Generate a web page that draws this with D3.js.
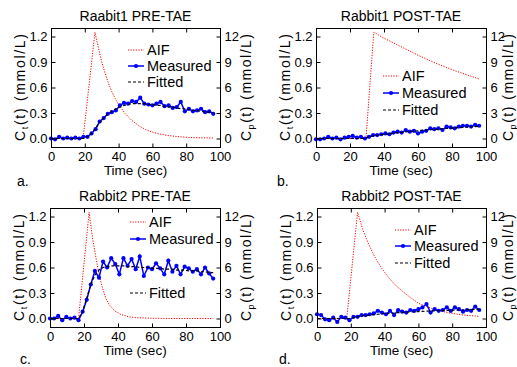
<!DOCTYPE html>
<meta charset="utf-8">
<style>
body { margin:0; background:#fff; }
text { font-family: "Liberation Sans", Arial, sans-serif; fill:#000; }
</style>
<script src="https://d3js.org/d3.v7.min.js"></script>
<body>
<svg id="fig" width="517" height="367"></svg>
<script>

// sample times (sec) of the measured / fitted curves
var time = [0, 2.4, 4.8, 7.2, 9.6, 12, 14.4, 16.8, 19.2, 21.6, 24, 26.4, 28.8, 31.2, 33.6, 36, 38.4, 40.8, 43.2, 45.6,
  48, 50.4, 52.8, 55.2, 57.6, 60, 62.4, 64.8, 67.2, 69.6, 72, 74.4, 76.8, 79.2, 81.6, 84, 86.4, 88.8, 91.2, 93.6, 96]

// Rabbit1 PRE-TAE
var measA = [0.00, -0.01, 0.02, 0.00, 0.01, 0.00, 0.01, 0.00, 0.02, 0.02, 0.06, 0.11, 0.20, 0.24, 0.29, 0.31, 0.33, 0.39, 0.42, 0.41,
  0.44, 0.43, 0.48, 0.41, 0.40, 0.39, 0.41, 0.43, 0.38, 0.39, 0.36, 0.37, 0.43, 0.32, 0.35, 0.32, 0.33, 0.35, 0.31, 0.32, 0.29]
var fitA = [0, 0, 0, 0, 0, 0, 0, 0, 0, 0.02, 0.06, 0.12, 0.19, 0.24, 0.29, 0.32, 0.35, 0.37, 0.39, 0.40,
  0.41, 0.41, 0.41, 0.41, 0.40, 0.40, 0.39, 0.39, 0.38, 0.37, 0.37, 0.36, 0.35, 0.35, 0.34, 0.33, 0.33, 0.32, 0.31, 0.31, 0.30]
var aifTimeA = [0, 19, 26, 28, 30, 32, 34, 36, 38, 40, 44, 48, 52, 56, 60, 65, 70, 75, 80, 85, 90, 96]
var aifA = [0, 0, 12.5, 10.7, 9.0, 7.7, 6.5, 5.5, 4.7, 4.0, 2.9, 2.1, 1.5, 1.05, 0.75, 0.5, 0.33, 0.22, 0.15, 0.1, 0.08, 0.06]

// Rabbit1 POST-TAE
var measB = [-0.01, -0.01, 0.00, 0.02, 0.00, 0.01, -0.01, 0.01, 0.02, 0.03, 0.01, 0.02, 0.00, 0.02, 0.04, 0.04, 0.05, 0.06, 0.05, 0.07,
  0.08, 0.07, 0.10, 0.08, 0.09, 0.06, 0.08, 0.09, 0.12, 0.11, 0.12, 0.10, 0.14, 0.13, 0.12, 0.14, 0.15, 0.15, 0.14, 0.16, 0.15]
var fitB = [0, 0, 0, 0, 0, 0, 0, 0, 0, 0, 0, 0, 0, 0.02, 0.03, 0.04, 0.045, 0.05, 0.056, 0.062,
  0.068, 0.073, 0.078, 0.083, 0.087, 0.091, 0.095, 0.099, 0.103, 0.107, 0.111, 0.114, 0.118, 0.121, 0.124, 0.128, 0.131, 0.134, 0.137, 0.14, 0.143]
var aifTimeB = [0, 29.4, 34, 40, 50, 60, 70, 80, 90, 96]
var aifB = [0, 0, 12.5, 11.8, 10.8, 9.8, 8.9, 8.1, 7.4, 7.0]

// Rabbit2 PRE-TAE
var measC = [0.00, 0.00, 0.03, -0.02, 0.02, 0.00, 0.01, -0.02, 0.08, 0.22, 0.40, 0.56, 0.48, 0.67, 0.60, 0.71, 0.64, 0.52, 0.71, 0.62,
  0.70, 0.58, 0.73, 0.50, 0.60, 0.58, 0.65, 0.59, 0.52, 0.68, 0.55, 0.62, 0.52, 0.61, 0.59, 0.55, 0.58, 0.52, 0.60, 0.53, 0.47]
var fitC = [0, 0, 0, 0, 0, 0, 0, 0, 0.08, 0.24, 0.40, 0.51, 0.57, 0.60, 0.61, 0.62, 0.62, 0.62, 0.62, 0.61,
  0.61, 0.61, 0.60, 0.60, 0.60, 0.59, 0.59, 0.59, 0.58, 0.58, 0.58, 0.57, 0.57, 0.57, 0.56, 0.56, 0.56, 0.55, 0.55, 0.54, 0.54]
var aifTimeC = [0, 16.8, 23, 25, 27, 29, 31, 33, 35, 38, 42, 46, 50, 60, 70, 80, 96]
var aifC = [0, 0, 12.5, 9.5, 7.2, 5.0, 3.5, 2.3, 1.6, 0.9, 0.45, 0.22, 0.1, 0.03, 0, 0, 0]

// Rabbit2 POST-TAE
var measD = [0.05, 0.04, -0.01, -0.02, 0.01, -0.04, 0.02, 0.01, -0.02, 0.02, 0.02, 0.04, 0.04, 0.05, 0.06, 0.09, 0.07, 0.05, 0.09, 0.04,
  0.10, 0.08, 0.07, 0.10, 0.09, 0.11, 0.13, 0.17, 0.07, 0.11, 0.09, 0.10, 0.13, 0.09, 0.13, 0.11, 0.08, 0.10, 0.09, 0.14, 0.10]
var fitD = [0, 0, 0, 0, 0, 0, 0, 0, 0, 0.01, 0.02, 0.03, 0.035, 0.04, 0.045, 0.05, 0.055, 0.058, 0.062, 0.065,
  0.068, 0.071, 0.074, 0.077, 0.079, 0.082, 0.084, 0.086, 0.088, 0.09, 0.092, 0.094, 0.096, 0.097, 0.099, 0.10, 0.102, 0.103, 0.105, 0.106, 0.107]
var aifTimeD = [0, 17.6, 24, 27, 30, 34, 38, 42, 46, 50, 55, 60, 65, 70, 75, 80, 85, 90, 96]
var aifD = [0, 0, 12.5, 10.5, 9.0, 7.3, 6.0, 4.9, 4.0, 3.3, 2.5, 1.8, 1.4, 1.05, 0.8, 0.6, 0.45, 0.35, 0.25]

var titles = ["Raabit1 PRE-TAE", "Rabbit1 POST-TAE", "Rabbit2 PRE-TAE", "Rabbit2 POST-TAE"]
var tags = ["a.", "b.", "c.", "d."]
var ctTicks = [0, 0.3, 0.6, 0.9, 1.2]
var cpTicks = [0, 3, 6, 9, 12]
var timeTicks = [0, 20, 40, 60, 80, 100]
var legendNames = ["AIF", "Measured", "Fitted"]

var svg = d3.select("#fig")
var font = '"Liberation Sans", Arial, sans-serif'

// panel layout: box, legend rows, tag position, right label offset
var panels = [
  {left: 51, top: 28, w: 169, h: 119, meas: measA, fit: fitA, aifT: aifTimeA, aif: aifA, legX: 128, legY: [50, 66, 82], tagX: 17, tagY: 186, rOff: 31},
  {left: 316, top: 28, w: 170, h: 119, meas: measB, fit: fitB, aifT: aifTimeB, aif: aifB, legX: 383, legY: [76, 93, 110], tagX: 277, tagY: 186, rOff: 27},
  {left: 50, top: 208, w: 170, h: 119, meas: measC, fit: fitC, aifT: aifTimeC, aif: aifC, legX: 130, legY: [222, 239, 293], tagX: 20, tagY: 364, rOff: 31},
  {left: 317, top: 208, w: 169, h: 119, meas: measD, fit: fitD, aifT: aifTimeD, aif: aifD, legX: 395, legY: [230, 246, 263], tagX: 279, tagY: 364, rOff: 27}
]

function styleAxis(sel) {
  sel.select(".domain").remove()
  sel.attr("font-family", font).attr("font-size", 13)
  sel.selectAll("text").attr("fill", "#000")
  sel.selectAll("line").attr("stroke", "#000")
}

function yLabel(g, x, y, sub) {
  var t = g.append("text")
    .attr("transform", "translate(" + x + "," + y + ") rotate(-90)")
    .attr("text-anchor", "middle")
    .attr("font-size", 14)
    .attr("textLength", 107)
    .attr("lengthAdjust", "spacing")
  t.append("tspan").text("C")
  t.append("tspan").attr("font-size", 9).attr("dy", 3).text(sub)
  t.append("tspan").attr("dy", -3).text("(t) (mmol/L)")
}

function drawPanel(p, i) {
  var x = d3.scaleLinear().domain([0, 100]).range([p.left, p.left + p.w])
  var yl = d3.scaleLinear().domain([-0.1, 1.3]).range([p.top + p.h, p.top])
  var yr = d3.scaleLinear().domain([-1, 13]).range([p.top + p.h, p.top])
  var g = svg.append("g")

  var aifLine = d3.line().x(function(d) { return x(d[0]) }).y(function(d) { return yr(d[1]) })
  var ctLine = d3.line().x(function(d) { return x(d[0]) }).y(function(d) { return yl(d[1]) })

  g.append("path")
    .datum(d3.zip(p.aifT, p.aif))
    .attr("d", aifLine)
    .attr("fill", "none")
    .attr("stroke", "#ff0000")
    .attr("stroke-width", 1)
    .attr("stroke-dasharray", "1.2,1.4")

  var meas = d3.zip(time, p.meas)
  g.append("path")
    .datum(meas)
    .attr("d", ctLine)
    .attr("fill", "none")
    .attr("stroke", "#0000ff")
    .attr("stroke-width", 1.5)
  g.selectAll("circle.m")
    .data(meas)
    .enter()
    .append("circle")
    .attr("class", "m")
    .attr("cx", function(d) { return x(d[0]) })
    .attr("cy", function(d) { return yl(d[1]) })
    .attr("r", 2.1)
    .attr("fill", "#0000ff")

  g.append("path")
    .datum(d3.zip(time, p.fit))
    .attr("d", ctLine)
    .attr("fill", "none")
    .attr("stroke", "#000")
    .attr("stroke-width", 1.2)
    .attr("stroke-dasharray", "3,2")

  // box
  g.append("rect")
    .attr("x", p.left + 0.5).attr("y", p.top + 0.5)
    .attr("width", p.w).attr("height", p.h)
    .attr("fill", "none").attr("stroke", "#000").attr("stroke-width", 1)

  // axes, ticks pointing inwards
  g.append("g").attr("transform", "translate(" + (p.left + 0.5) + ",0)")
    .call(d3.axisLeft(yl).tickValues(ctTicks).tickFormat(d3.format(".1f")).tickSizeInner(-4).tickSizeOuter(0).tickPadding(4))
    .call(styleAxis)
  g.append("g").attr("transform", "translate(" + (p.left + p.w + 0.5) + ",0)")
    .call(d3.axisRight(yr).tickValues(cpTicks).tickFormat(d3.format("d")).tickSizeInner(-4).tickSizeOuter(0).tickPadding(4))
    .call(styleAxis)
  g.append("g").attr("transform", "translate(0," + (p.top + p.h + 0.5) + ")")
    .call(d3.axisBottom(x).tickValues(timeTicks).tickFormat(d3.format("d")).tickSizeInner(-4).tickSizeOuter(0).tickPadding(4))
    .call(styleAxis)
  g.append("g").attr("transform", "translate(0," + (p.top + 0.5) + ")")
    .call(d3.axisTop(x).tickValues(timeTicks).tickFormat("").tickSizeInner(-4).tickSizeOuter(0))
    .call(styleAxis)

  // texts
  var cx = p.left + p.w / 2
  g.append("text").attr("x", cx).attr("y", p.top - 7).attr("text-anchor", "middle")
    .attr("font-size", 14).text(titles[i])
  g.append("text").attr("x", cx).attr("y", p.top + p.h + 28).attr("text-anchor", "middle")
    .attr("font-size", 13.5).text("Time (sec)")
  yLabel(g, p.left - 26, p.top + p.h / 2, "t")
  yLabel(g, p.left + p.w + p.rOff, p.top + p.h / 2, "p")
  g.append("text").attr("x", p.tagX).attr("y", p.tagY).attr("font-size", 14).text(tags[i])

  // legend
  var lx = p.legX
  var ly = p.legY
  g.append("line").attr("x1", lx).attr("x2", lx + 16).attr("y1", ly[0]).attr("y2", ly[0])
    .attr("stroke", "#ff0000").attr("stroke-dasharray", "1.2,1.4")
  g.append("line").attr("x1", lx).attr("x2", lx + 16).attr("y1", ly[1]).attr("y2", ly[1])
    .attr("stroke", "#0000ff").attr("stroke-width", 1.5)
  g.append("circle").attr("cx", lx + 8).attr("cy", ly[1]).attr("r", 2.1).attr("fill", "#0000ff")
  g.append("line").attr("x1", lx).attr("x2", lx + 16).attr("y1", ly[2]).attr("y2", ly[2])
    .attr("stroke", "#000").attr("stroke-width", 1.2).attr("stroke-dasharray", "3,2")
  legendNames.forEach(function(name, k) {
    g.append("text").attr("x", lx + 19).attr("y", ly[k] + 5).attr("font-size", 14.5).text(name)
  })
}

panels.forEach(drawPanel)

</script>
</body>
